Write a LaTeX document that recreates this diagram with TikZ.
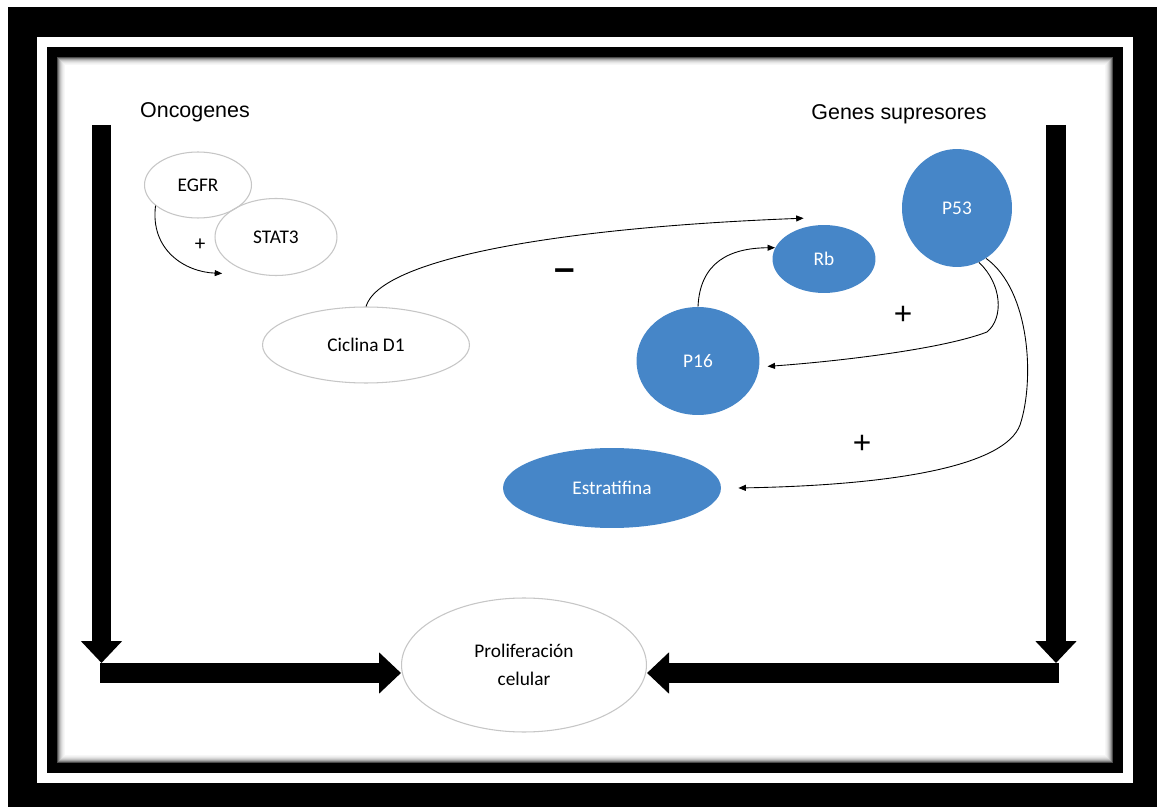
\documentclass[tikz,border=0pt]{standalone}
\usepackage{fontspec}
\setmainfont{Carlito}
\newfontfamily\arialfont{Liberation Sans}
\usetikzlibrary{shapes.geometric,arrows.meta}
\definecolor{cellblue}{RGB}{70,134,200}

\begin{document}
\begin{tikzpicture}[x=0.02cm,y=-0.02cm,
		gene/.style={ellipse,draw=gray!45,line width=.6pt,inner sep=0pt,font=\fontsize{11}{13}\selectfont},
		bluegene/.style={ellipse,fill=cellblue,text=white,inner sep=0pt,font=\fontsize{11}{13}\selectfont},
		link/.style={line width=.5pt,-{Triangle[length=1.5mm,width=1.2mm]}},
		fat/.style={line width=0.4cm,-{Triangle[length=0.44cm,width=0.8cm]}},
		title/.style={font=\arialfont\fontsize{12.2}{14}\selectfont},
		sign/.style={font=\arialfont\fontsize{18}{18}\selectfont}]
				\useasboundingbox (0,0) rectangle (1157,807);
				\fill [white] (0,0) rectangle (1157,807);
				\fill [black] (8,7) rectangle (1157,807);
				\fill [white] (37,37) rectangle (1133,783);
				\fill [black] (47,47) rectangle (1123,773);
				\fill [white] (57,57) rectangle (1113,763);

				\foreach \i/\c in {0/70,1/50,2/35,3/24,4/16,5/10,6/6,7/3}
				{
					\draw [black!\c,line width=.6pt] ({57.5+\i},{57.5+\i}) rectangle ({1112.5-\i},{762.5-\i});
				}

				\node [title] (onc) at (195,112) {Oncogenes};
				\node [title] (sup) at (899,114) {Genes supresores};

				\node [gene,minimum width=2.14cm,minimum height=1.32cm] (egfr) at (198,185) {EGFR};
				\node [gene,minimum width=2.44cm,minimum height=1.54cm] (stat3) at (276,237) {STAT3};
				\node [gene,minimum width=4.14cm,minimum height=1.52cm] (ciclina) at (366,345) {Ciclina D1};
				\node [bluegene,minimum width=2.06cm,minimum height=1.36cm] (rb) at (824,259) {Rb};
				\node [bluegene,minimum width=2.2cm,minimum height=2.36cm] (p53) at (957,208) {P53};
				\node [bluegene,minimum width=2.46cm,minimum height=2.16cm] (p16) at (698,361) {P16};
				\node [bluegene,minimum width=4.36cm,minimum height=1.6cm] (estratifina) at (612,488) {Estratifina};
				\node [gene,minimum width=4.9cm,minimum height=2.68cm,align=center,font=\fontsize{11}{16}\selectfont] (prolif) at (524,665) {Proliferación\\celular};

				\draw [link] (egfr.206) .. controls (150,250) and (185,272) .. ([xshift=-0.25cm,yshift=-0.15cm]stat3.215);
				\draw [link] (ciclina.north) .. controls (380,260) and (550,228) .. ([xshift=-0.1cm,yshift=0.16cm]rb.115);
				\draw [link] (p16.north) .. controls (700,262) and (730,248) .. (rb.167);
				\draw [link] (p53.292) .. controls (1002,284) and (1004,318) .. (987,332) .. controls (940,350) and (830,362) .. ([xshift=0.16cm]p16.355);
				\draw [link] (p53.300) .. controls (1030,290) and (1035,380) .. (1020,425) .. controls (1005,465) and (900,485) .. ([xshift=0.34cm]estratifina.east);

				\node [font=\fontsize{12}{12}\selectfont] (plusegfr) at (200,245) {+};
				\node [font=\arialfont\bfseries\fontsize{21}{21}\selectfont] (minus) at (565,275) {–};
				\node [sign] (plusp16) at (903,315) {+};
				\node [sign] (plusestr) at (862,444) {+};

				\coordinate (onctop) at (101.5,125);
				\coordinate (onccorner) at (101.5,663);
				\coordinate (oncbase) at (100,673);
				\coordinate (suptop) at (1056,125);
				\coordinate (supcorner) at (1056,663);
				\coordinate (supbase) at (1059,673);

				\draw [fat] (onctop) -- (onccorner);
				\draw [fat] (oncbase) -- (oncbase -| prolif.west);
				\draw [fat] (suptop) -- (supcorner);
				\draw [fat] (supbase) -- (supbase -| prolif.east);
\end{tikzpicture}
\end{document}
